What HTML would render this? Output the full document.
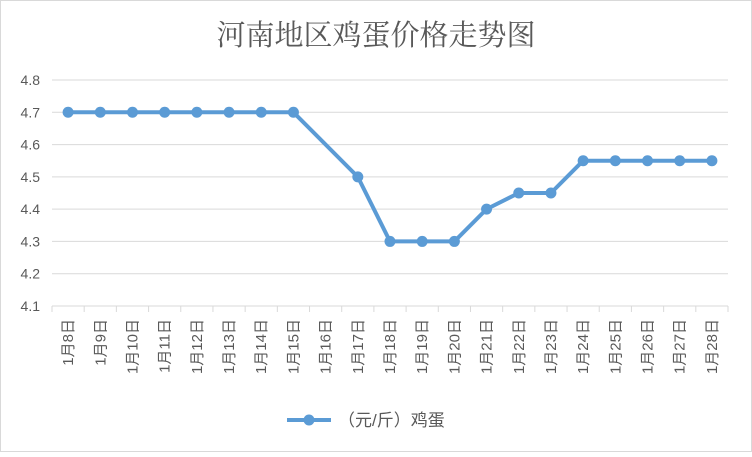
<!DOCTYPE html>
<html><head><meta charset="utf-8"><style>
body{margin:0;background:#fff}
svg text{font-family:"Liberation Sans","Noto Sans CJK SC",sans-serif}
</style></head><body>
<svg id="c" width="752" height="452" xmlns="http://www.w3.org/2000/svg">
<rect x="0.5" y="0.5" width="751" height="451" fill="#fff" stroke="#d9d9d9"/>
<text x="376" y="45" text-anchor="middle" font-size="29" fill="#595959" style="font-family:'Noto Serif CJK SC','Liberation Serif',serif">河南地区鸡蛋价格走势图</text>
<g id="grid"></g><g id="yt"></g><g id="xt"></g><g id="ser"></g>
<g>
<line x1="287" y1="420" x2="331" y2="420" stroke="#5b9bd5" stroke-width="4"/>
<circle cx="309" cy="420" r="5.5" fill="#5b9bd5"/>
<text x="338" y="426" font-size="17" fill="#595959">（元/斤）鸡蛋</text>
</g>
</svg>
<script>
const categories=["1月8日","1月9日","1月10日","1月11日","1月12日","1月13日","1月14日","1月15日","1月16日","1月17日","1月18日","1月19日","1月20日","1月21日","1月22日","1月23日","1月24日","1月25日","1月26日","1月27日","1月28日"];
const values=[4.7,4.7,4.7,4.7,4.7,4.7,4.7,4.7,null,4.5,4.3,4.3,4.3,4.4,4.45,4.45,4.55,4.55,4.55,4.55,4.55];
const yTicks=["4.1","4.2","4.3","4.4","4.5","4.6","4.7","4.8"];
const L=52,R=728,T=80,B=306,ymin=4.1,ymax=4.8;
const NS="http://www.w3.org/2000/svg";
const bw=(R-L)/categories.length;
const x=i=>L+bw*(i+0.5);
const y=v=>B-(v-ymin)/(ymax-ymin)*(B-T);
function mk(p,t,a){const e=document.createElementNS(NS,t);for(const k in a)e.setAttribute(k,a[k]);document.getElementById(p).appendChild(e);return e;}
yTicks.forEach(t=>{const v=+t;
 const g=mk('grid','line',{x1:L,x2:R,y1:y(v),y2:y(v),stroke:'#d9d9d9','stroke-width':1});
 
 
 const tx=mk('yt','text',{x:40,y:y(v)+5,'text-anchor':'end','font-size':14,fill:'#595959'});
 tx.textContent=t;
 
 
});
for(let i=0;i<=categories.length;i++){
 const tk=mk('grid','line',{x1:L+bw*i,x2:L+bw*i,y1:B,y2:B+6,stroke:'#d9d9d9','stroke-width':1});
 
 
}
categories.forEach((c,i)=>{
 const t=mk('xt','text',{x:0,y:0,'text-anchor':'end','font-size':15,fill:'#595959',transform:`translate(${x(i)+5},319) rotate(-90)`});
 t.textContent=c;
 
 
});
const pts=[];values.forEach((v,i)=>{if(v!=null)pts.push([x(i),y(v)]);});
const pl=mk('ser','polyline',{points:pts.map(p=>p.join(',')).join(' '),fill:'none',stroke:'#5b9bd5','stroke-width':4,'stroke-linejoin':'round'});


pts.forEach(p=>{
 const c=mk('ser','circle',{cx:p[0],cy:p[1],r:5.5,fill:'#5b9bd5'});
 
 
});
</script>
</body></html>
